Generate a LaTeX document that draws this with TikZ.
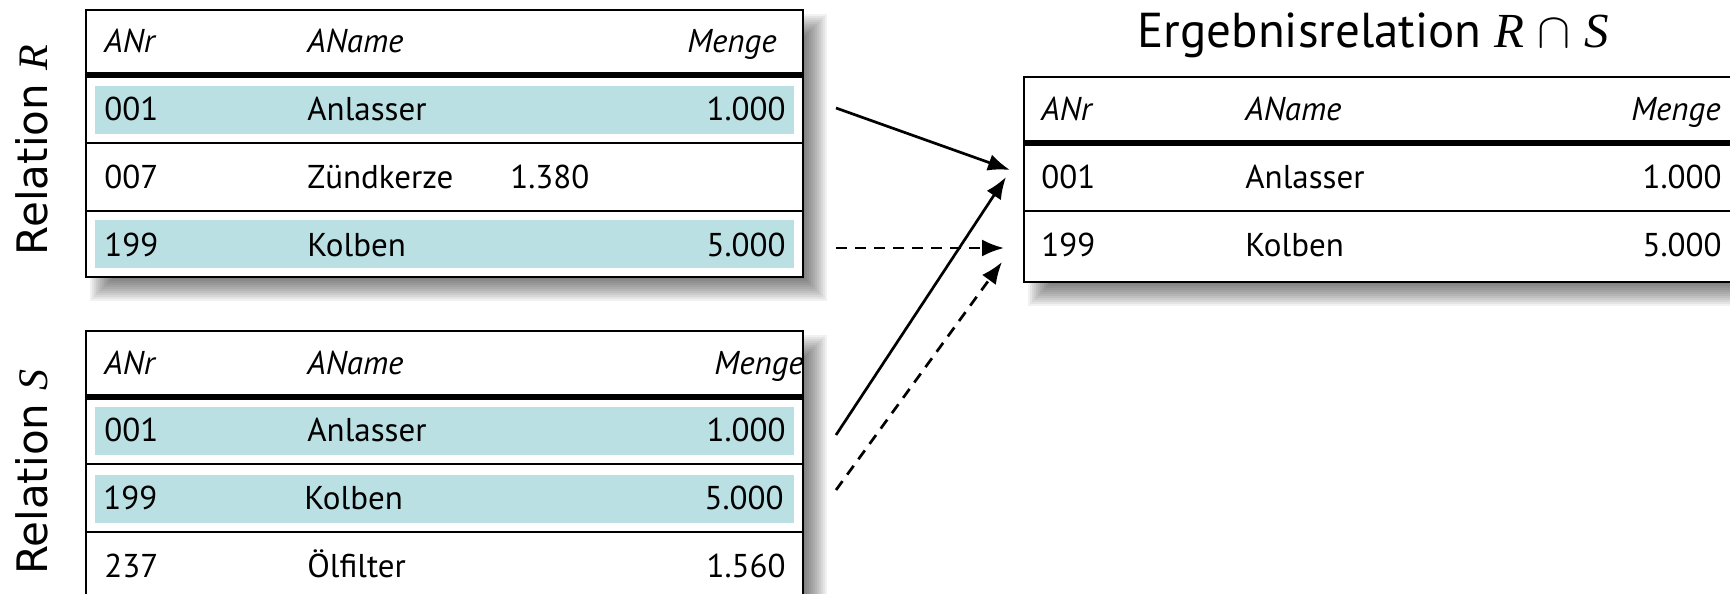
\documentclass[tikz,border=0pt]{standalone}
\usepackage{fontspec}
\setmainfont{PT Sans}
\newfontfamily\labelfont{DejaVu Sans}
\newfontfamily\letterfont{Liberation Serif}
\usetikzlibrary{arrows.meta}
\definecolor{rowcyan}{RGB}{186,224,227}
\newcommand\rel[1]{{\letterfont\itshape #1}}
\newcommand\softshadow[4]{%
  \foreach \i in {0,...,11}{%
    \fill[black,opacity=0.055] ({#1+4+2*\i},{#2+4+2*\i}) rectangle ({#3+24-2*\i},{#4+24-2*\i});}}
\begin{document}
\begin{tikzpicture}[x=0.5pt,y=-0.5pt,
  cell/.style={inner sep=0pt, font=\fontsize{16.5}{19}\selectfont},
  headcell/.style={inner sep=0pt, font=\fontsize{16.5}{19}\selectfont\itshape},
  frame/.style={draw=black, line width=1.4pt},
  headline/.style={draw=black, line width=2.6pt},
  rowline/.style={draw=black, line width=1.25pt},
  band/.style={fill=rowcyan},
  rellabel/.style={inner sep=0pt, rotate=90, anchor=base, font=\labelfont\fontsize{21}{25}\selectfont},
  conn/.style={line width=1.35pt, -{Latex[length=11pt,width=8.5pt]}},
  dconn/.style={conn, dash pattern=on 5.5pt off 4pt}
]
\useasboundingbox (0,0) rectangle (1730,594);

% shadows
\softshadow{86}{10}{803}{277}
\softshadow{86}{331}{803}{640}
\softshadow{1024}{77}{1780}{282}

% ---------- Relation R ----------
\fill[white] (86,10) rectangle (803,277);
\fill[band] (95,86) rectangle (794,134);
\fill[band] (95,220) rectangle (794,268);
\draw[headline] (86,75) -- (803,75);
\draw[rowline] (86,143) -- (803,143);
\draw[rowline] (86,211) -- (803,211);
\draw[frame] (86,10) rectangle (803,277);

\node[headcell, anchor=base west] (rh1) at (104,53) {ANr};
\node[headcell, anchor=base west] (rh2) at (307,53) {AName};
\node[headcell, anchor=base east] (rh3) at (777,53) {Menge};
\node[cell, anchor=base west] (r11) at (104,120) {001};
\node[cell, anchor=base west] (r12) at (307,120) {Anlasser};
\node[cell, anchor=base east] (r13) at (786,120) {1.000};
\node[cell, anchor=base west] (r21) at (104,188) {007};
\node[cell, anchor=base west] (r22) at (307,188) {Zündkerze};
\node[cell, anchor=base west] (r23) at (510,188) {1.380};
\node[cell, anchor=base west] (r31) at (104,256) {199};
\node[cell, anchor=base west] (r32) at (307,256) {Kolben};
\node[cell, anchor=base east] (r33) at (786,256) {5.000};

\node[rellabel] (labR) at (47,150) {Relation \rel{R}};

% ---------- Relation S ----------
\fill[white] (86,331) rectangle (803,640);
\fill[band] (95,407) rectangle (794,455);
\fill[band] (95,475) rectangle (794,523);
\draw[headline] (86,397) -- (803,397);
\draw[rowline] (86,464) -- (803,464);
\draw[rowline] (86,532) -- (803,532);
\draw[frame] (86,331) rectangle (803,640);

\node[headcell, anchor=base west] (sh1) at (104,374) {ANr};
\node[headcell, anchor=base west] (sh2) at (307,374) {AName};
\node[headcell, anchor=base west] (sh3) at (714,374) {Menge};
\node[cell, anchor=base west] (s11) at (104,441) {001};
\node[cell, anchor=base west] (s12) at (307,441) {Anlasser};
\node[cell, anchor=base east] (s13) at (786,441) {1.000};
\node[cell, anchor=base west] (s21) at (103,509) {199};
\node[cell, anchor=base west] (s22) at (304,509) {Kolben};
\node[cell, anchor=base east] (s23) at (784,509) {5.000};
\node[cell, anchor=base west] (s31) at (104,577) {237};
\node[cell, anchor=base west] (s32) at (307,577) {Ölfilter};
\node[cell, anchor=base east] (s33) at (786,577) {1.560};

\node[rellabel] (labS) at (47,472) {Relation \rel{S}};

% ---------- Result ----------
\node[inner sep=0pt, anchor=base, font=\fontsize{24.5}{29}\selectfont] (title) at (1373,47) {Ergebnisrelation \rel{R} $\cap$ \rel{S}};

\fill[white] (1024,77) rectangle (1780,282);
\draw[headline] (1024,143) -- (1780,143);
\draw[rowline] (1024,211) -- (1780,211);
\draw[frame] (1024,77) rectangle (1780,282);

\node[headcell, anchor=base west] (eh1) at (1041,120) {ANr};
\node[headcell, anchor=base west] (eh2) at (1245,120) {AName};
\node[headcell, anchor=base east] (eh3) at (1721,120) {Menge};
\node[cell, anchor=base west] (e11) at (1041,188) {001};
\node[cell, anchor=base west] (e12) at (1245,188) {Anlasser};
\node[cell, anchor=base east] (e13) at (1722,188) {1.000};
\node[cell, anchor=base west] (e21) at (1041,256) {199};
\node[cell, anchor=base west] (e22) at (1245,256) {Kolben};
\node[cell, anchor=base east] (e23) at (1722,256) {5.000};

% ---------- connectors ----------
\coordinate (a1s) at (836,108);
\coordinate (a1e) at (1010,170);
\coordinate (d1s) at (836,248);
\coordinate (d1e) at (1004,248);
\coordinate (a2s) at (836,435);
\coordinate (a2e) at (1006,177);
\coordinate (d2s) at (836,490);
\coordinate (d2e) at (1002,262);

\draw[conn] (a1s) -- (a1e);
\draw[dconn] (d1s) -- (d1e);
\draw[conn] (a2s) -- (a2e);
\draw[dconn] (d2s) -- (d2e);
\end{tikzpicture}
\end{document}
